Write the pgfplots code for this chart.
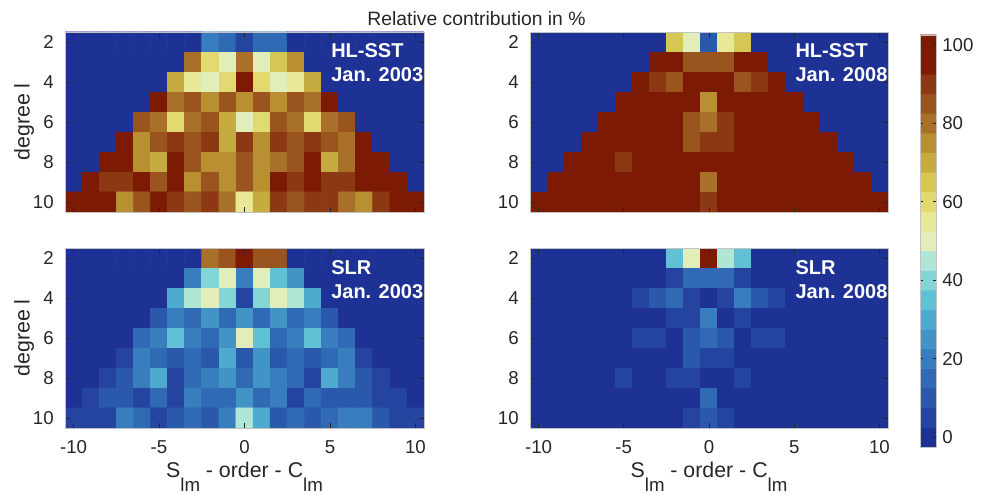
\documentclass[border=0pt]{standalone}
\usepackage{fontspec}
\setmainfont{Liberation Sans}
\usepackage{pgfplots}
\pgfplotsset{compat=1.18}

\definecolor{txt}{RGB}{38,38,38}
\definecolor{frame}{RGB}{195,195,195}

% 21 bands centred on 0,5,...,100 (last colour repeated for piecewise constant access)
\pgfplotsset{
  colormap={roma}{
    rgb255=(30,49,148) rgb255=(36,68,160) rgb255=(42,88,170) rgb255=(48,106,180)
    rgb255=(56,126,190) rgb255=(66,148,198) rgb255=(78,170,206) rgb255=(96,192,212)
    rgb255=(132,214,214) rgb255=(176,230,214) rgb255=(208,236,206) rgb255=(226,238,186)
    rgb255=(232,232,150) rgb255=(226,218,112) rgb255=(214,198,84) rgb255=(198,172,64)
    rgb255=(184,144,50) rgb255=(168,112,40) rgb255=(154,84,30) rgb255=(140,56,18)
    rgb255=(125,26,4) rgb255=(125,26,4)
  },
  shared/.style={
    scale only axis, anchor=south west, enlargelimits=false, axis on top,
    colormap name=roma, colormap access=piecewise constant,
    point meta min=-2.5, point meta max=102.5,
    tick align=inside,
    tick style={txt, line width=0.5pt},
    axis line style={frame},
    ticklabel style={font=\fontsize{14}{16}\selectfont, text=txt},
    /pgf/number format/assume math mode=true,
  },
  panel/.style={
    shared, width=269.25pt, height=135pt,
    xmin=-10.5, xmax=10.5, ymin=1.5, ymax=10.5, y dir=reverse,
    xtick={-10,-5,0,5,10}, ytick={2,4,6,8,10}, major tick length=4pt,
    xticklabel style={inner sep=0pt, yshift=-9.5pt},
    yticklabel style={inner sep=0pt, xshift=-8.25pt},
    label style={font=\fontsize{16}{19}\selectfont, text=txt},
    ylabel style={at={(axis description cs:-0.114,0.5)}, anchor=center},
    xlabel style={at={(axis description cs:0.5,-0.276)}, anchor=base},
  },
  cells/.style={matrix plot*, mesh/cols=21, point meta=explicit},
}
\tikzset{tag/.style={font=\bfseries\fontsize{15}{18}\selectfont, text=white,
    align=left, inner sep=0pt, anchor=north west}}
\newcommand{\sub}[1]{\raisebox{-10pt}{\fontsize{14}{14}\selectfont #1}}

\begin{document}
\begin{tikzpicture}
\useasboundingbox (0,0) rectangle (741.75pt,371.25pt);

\node[font=\fontsize{14.5}{17}\selectfont, text=txt, anchor=base]
  at (357.4pt,351.75pt) {Relative contribution in \%};

% HL-SST, Jan. 2003
\begin{axis}[panel, at={(48.75pt,212.25pt)}, xticklabels={}, ylabel={degree l}]
\addplot[cells] coordinates {
(-10,2)[0] (-9,2)[0] (-8,2)[0] (-7,2)[0] (-6,2)[0] (-5,2)[0] (-4,2)[0] (-3,2)[0] (-2,2)[20] (-1,2)[15] (0,2)[5] (1,2)[15] (2,2)[15] (3,2)[0] (4,2)[0] (5,2)[0] (6,2)[0] (7,2)[0] (8,2)[0] (9,2)[0] (10,2)[0]
(-10,3)[0] (-9,3)[0] (-8,3)[0] (-7,3)[0] (-6,3)[0] (-5,3)[0] (-4,3)[0] (-3,3)[80] (-2,3)[60] (-1,3)[50] (0,3)[80] (1,3)[50] (2,3)[65] (3,3)[75] (4,3)[0] (5,3)[0] (6,3)[0] (7,3)[0] (8,3)[0] (9,3)[0] (10,3)[0]
(-10,4)[0] (-9,4)[0] (-8,4)[0] (-7,4)[0] (-6,4)[0] (-5,4)[0] (-4,4)[70] (-3,4)[55] (-2,4)[50] (-1,4)[60] (0,4)[95] (1,4)[60] (2,4)[50] (3,4)[55] (4,4)[70] (5,4)[0] (6,4)[0] (7,4)[0] (8,4)[0] (9,4)[0] (10,4)[0]
(-10,5)[0] (-9,5)[0] (-8,5)[0] (-7,5)[0] (-6,5)[0] (-5,5)[95] (-4,5)[80] (-3,5)[85] (-2,5)[75] (-1,5)[85] (0,5)[75] (1,5)[85] (2,5)[75] (3,5)[85] (4,5)[80] (5,5)[95] (6,5)[0] (7,5)[0] (8,5)[0] (9,5)[0] (10,5)[0]
(-10,6)[0] (-9,6)[0] (-8,6)[0] (-7,6)[0] (-6,6)[85] (-5,6)[80] (-4,6)[60] (-3,6)[80] (-2,6)[85] (-1,6)[70] (0,6)[50] (1,6)[60] (2,6)[85] (3,6)[80] (4,6)[60] (5,6)[80] (6,6)[85] (7,6)[0] (8,6)[0] (9,6)[0] (10,6)[0]
(-10,7)[0] (-9,7)[0] (-8,7)[0] (-7,7)[95] (-6,7)[75] (-5,7)[85] (-4,7)[90] (-3,7)[85] (-2,7)[90] (-1,7)[70] (0,7)[90] (1,7)[75] (2,7)[90] (3,7)[85] (4,7)[90] (5,7)[85] (6,7)[80] (7,7)[95] (8,7)[0] (9,7)[0] (10,7)[0]
(-10,8)[0] (-9,8)[0] (-8,8)[95] (-7,8)[95] (-6,8)[75] (-5,8)[70] (-4,8)[95] (-3,8)[85] (-2,8)[75] (-1,8)[75] (0,8)[85] (1,8)[75] (2,8)[80] (3,8)[85] (4,8)[95] (5,8)[70] (6,8)[80] (7,8)[95] (8,8)[95] (9,8)[0] (10,8)[0]
(-10,9)[0] (-9,9)[100] (-8,9)[90] (-7,9)[90] (-6,9)[95] (-5,9)[85] (-4,9)[95] (-3,9)[75] (-2,9)[85] (-1,9)[75] (0,9)[85] (1,9)[75] (2,9)[95] (3,9)[90] (4,9)[95] (5,9)[90] (6,9)[90] (7,9)[95] (8,9)[95] (9,9)[100] (10,9)[0]
(-10,10)[95] (-9,10)[95] (-8,10)[95] (-7,10)[75] (-6,10)[85] (-5,10)[95] (-4,10)[90] (-3,10)[85] (-2,10)[90] (-1,10)[80] (0,10)[55] (1,10)[70] (2,10)[90] (3,10)[85] (4,10)[90] (5,10)[90] (6,10)[80] (7,10)[75] (8,10)[90] (9,10)[95] (10,10)[95]
};
\node[tag] at (axis description cs:0.741,0.939) {HL-SST\\Jan. 2003};
\end{axis}

% HL-SST, Jan. 2008
\begin{axis}[panel, at={(397.5pt,212.25pt)}, width=268.5pt, xticklabels={}]
\addplot[cells] coordinates {
(-10,2)[0] (-9,2)[0] (-8,2)[0] (-7,2)[0] (-6,2)[0] (-5,2)[0] (-4,2)[0] (-3,2)[0] (-2,2)[65] (-1,2)[50] (0,2)[10] (1,2)[55] (2,2)[65] (3,2)[0] (4,2)[0] (5,2)[0] (6,2)[0] (7,2)[0] (8,2)[0] (9,2)[0] (10,2)[0]
(-10,3)[0] (-9,3)[0] (-8,3)[0] (-7,3)[0] (-6,3)[0] (-5,3)[0] (-4,3)[0] (-3,3)[100] (-2,3)[95] (-1,3)[85] (0,3)[85] (1,3)[85] (2,3)[95] (3,3)[100] (4,3)[0] (5,3)[0] (6,3)[0] (7,3)[0] (8,3)[0] (9,3)[0] (10,3)[0]
(-10,4)[0] (-9,4)[0] (-8,4)[0] (-7,4)[0] (-6,4)[0] (-5,4)[0] (-4,4)[95] (-3,4)[90] (-2,4)[85] (-1,4)[95] (0,4)[100] (1,4)[95] (2,4)[85] (3,4)[90] (4,4)[95] (5,4)[0] (6,4)[0] (7,4)[0] (8,4)[0] (9,4)[0] (10,4)[0]
(-10,5)[0] (-9,5)[0] (-8,5)[0] (-7,5)[0] (-6,5)[0] (-5,5)[100] (-4,5)[100] (-3,5)[100] (-2,5)[95] (-1,5)[95] (0,5)[75] (1,5)[100] (2,5)[95] (3,5)[100] (4,5)[100] (5,5)[100] (6,5)[0] (7,5)[0] (8,5)[0] (9,5)[0] (10,5)[0]
(-10,6)[0] (-9,6)[0] (-8,6)[0] (-7,6)[0] (-6,6)[100] (-5,6)[100] (-4,6)[95] (-3,6)[95] (-2,6)[100] (-1,6)[85] (0,6)[80] (1,6)[90] (2,6)[100] (3,6)[95] (4,6)[95] (5,6)[100] (6,6)[100] (7,6)[0] (8,6)[0] (9,6)[0] (10,6)[0]
(-10,7)[0] (-9,7)[0] (-8,7)[0] (-7,7)[100] (-6,7)[100] (-5,7)[100] (-4,7)[100] (-3,7)[100] (-2,7)[100] (-1,7)[85] (0,7)[90] (1,7)[90] (2,7)[100] (3,7)[100] (4,7)[100] (5,7)[100] (6,7)[100] (7,7)[100] (8,7)[0] (9,7)[0] (10,7)[0]
(-10,8)[0] (-9,8)[0] (-8,8)[100] (-7,8)[100] (-6,8)[100] (-5,8)[90] (-4,8)[100] (-3,8)[100] (-2,8)[95] (-1,8)[95] (0,8)[100] (1,8)[100] (2,8)[95] (3,8)[100] (4,8)[100] (5,8)[100] (6,8)[100] (7,8)[100] (8,8)[100] (9,8)[0] (10,8)[0]
(-10,9)[0] (-9,9)[100] (-8,9)[100] (-7,9)[100] (-6,9)[100] (-5,9)[100] (-4,9)[100] (-3,9)[100] (-2,9)[100] (-1,9)[100] (0,9)[80] (1,9)[100] (2,9)[100] (3,9)[100] (4,9)[100] (5,9)[100] (6,9)[100] (7,9)[100] (8,9)[100] (9,9)[100] (10,9)[0]
(-10,10)[100] (-9,10)[100] (-8,10)[100] (-7,10)[100] (-6,10)[100] (-5,10)[100] (-4,10)[100] (-3,10)[100] (-2,10)[100] (-1,10)[95] (0,10)[90] (1,10)[95] (2,10)[100] (3,10)[100] (4,10)[100] (5,10)[100] (6,10)[100] (7,10)[100] (8,10)[100] (9,10)[100] (10,10)[100]
};
\node[tag] at (axis description cs:0.741,0.939) {HL-SST\\Jan. 2008};
\end{axis}

% SLR, Jan. 2003
\begin{axis}[panel, at={(48.75pt,50.25pt)}, ylabel={degree l},
  xlabel={S\sub{lm} - order - C\sub{lm}}]
\addplot[cells] coordinates {
(-10,2)[0] (-9,2)[0] (-8,2)[0] (-7,2)[0] (-6,2)[0] (-5,2)[0] (-4,2)[0] (-3,2)[0] (-2,2)[80] (-1,2)[85] (0,2)[100] (1,2)[85] (2,2)[85] (3,2)[0] (4,2)[0] (5,2)[0] (6,2)[0] (7,2)[0] (8,2)[0] (9,2)[0] (10,2)[0]
(-10,3)[0] (-9,3)[0] (-8,3)[0] (-7,3)[0] (-6,3)[0] (-5,3)[0] (-4,3)[0] (-3,3)[20] (-2,3)[40] (-1,3)[50] (0,3)[20] (1,3)[50] (2,3)[35] (3,3)[25] (4,3)[0] (5,3)[0] (6,3)[0] (7,3)[0] (8,3)[0] (9,3)[0] (10,3)[0]
(-10,4)[0] (-9,4)[0] (-8,4)[0] (-7,4)[0] (-6,4)[0] (-5,4)[0] (-4,4)[30] (-3,4)[45] (-2,4)[50] (-1,4)[40] (0,4)[5] (1,4)[40] (2,4)[50] (3,4)[45] (4,4)[30] (5,4)[0] (6,4)[0] (7,4)[0] (8,4)[0] (9,4)[0] (10,4)[0]
(-10,5)[0] (-9,5)[0] (-8,5)[0] (-7,5)[0] (-6,5)[0] (-5,5)[10] (-4,5)[20] (-3,5)[15] (-2,5)[25] (-1,5)[15] (0,5)[25] (1,5)[15] (2,5)[25] (3,5)[15] (4,5)[20] (5,5)[10] (6,5)[0] (7,5)[0] (8,5)[0] (9,5)[0] (10,5)[0]
(-10,6)[0] (-9,6)[0] (-8,6)[0] (-7,6)[0] (-6,6)[15] (-5,6)[20] (-4,6)[35] (-3,6)[20] (-2,6)[15] (-1,6)[25] (0,6)[50] (1,6)[35] (2,6)[15] (3,6)[20] (4,6)[35] (5,6)[20] (6,6)[15] (7,6)[0] (8,6)[0] (9,6)[0] (10,6)[0]
(-10,7)[0] (-9,7)[0] (-8,7)[0] (-7,7)[5] (-6,7)[20] (-5,7)[15] (-4,7)[10] (-3,7)[15] (-2,7)[10] (-1,7)[30] (0,7)[10] (1,7)[25] (2,7)[10] (3,7)[15] (4,7)[10] (5,7)[15] (6,7)[20] (7,7)[5] (8,7)[0] (9,7)[0] (10,7)[0]
(-10,8)[0] (-9,8)[0] (-8,8)[5] (-7,8)[10] (-6,8)[20] (-5,8)[30] (-4,8)[5] (-3,8)[15] (-2,8)[20] (-1,8)[25] (0,8)[15] (1,8)[25] (2,8)[20] (3,8)[15] (4,8)[5] (5,8)[30] (6,8)[20] (7,8)[10] (8,8)[5] (9,8)[0] (10,8)[0]
(-10,9)[0] (-9,9)[5] (-8,9)[10] (-7,9)[10] (-6,9)[5] (-5,9)[15] (-4,9)[5] (-3,9)[20] (-2,9)[15] (-1,9)[15] (0,9)[25] (1,9)[15] (2,9)[20] (3,9)[5] (4,9)[15] (5,9)[10] (6,9)[10] (7,9)[10] (8,9)[5] (9,9)[5] (10,9)[0]
(-10,10)[5] (-9,10)[5] (-8,10)[5] (-7,10)[20] (-6,10)[15] (-5,10)[5] (-4,10)[10] (-3,10)[15] (-2,10)[10] (-1,10)[20] (0,10)[45] (1,10)[30] (2,10)[10] (3,10)[15] (4,10)[10] (5,10)[15] (6,10)[20] (7,10)[20] (8,10)[10] (9,10)[5] (10,10)[5]
};
\node[tag] at (axis description cs:0.741,0.932) {SLR\\Jan. 2003};
\end{axis}

% SLR, Jan. 2008
\begin{axis}[panel, at={(397.5pt,50.25pt)}, width=268.5pt,
  xlabel={S\sub{lm} - order - C\sub{lm}}]
\addplot[cells] coordinates {
(-10,2)[0] (-9,2)[0] (-8,2)[0] (-7,2)[0] (-6,2)[0] (-5,2)[0] (-4,2)[0] (-3,2)[0] (-2,2)[35] (-1,2)[50] (0,2)[95] (1,2)[45] (2,2)[35] (3,2)[0] (4,2)[0] (5,2)[0] (6,2)[0] (7,2)[0] (8,2)[0] (9,2)[0] (10,2)[0]
(-10,3)[0] (-9,3)[0] (-8,3)[0] (-7,3)[0] (-6,3)[0] (-5,3)[0] (-4,3)[0] (-3,3)[0] (-2,3)[5] (-1,3)[15] (0,3)[15] (1,3)[15] (2,3)[5] (3,3)[0] (4,3)[0] (5,3)[0] (6,3)[0] (7,3)[0] (8,3)[0] (9,3)[0] (10,3)[0]
(-10,4)[0] (-9,4)[0] (-8,4)[0] (-7,4)[0] (-6,4)[0] (-5,4)[0] (-4,4)[5] (-3,4)[10] (-2,4)[15] (-1,4)[5] (0,4)[0] (1,4)[5] (2,4)[20] (3,4)[10] (4,4)[5] (5,4)[0] (6,4)[0] (7,4)[0] (8,4)[0] (9,4)[0] (10,4)[0]
(-10,5)[0] (-9,5)[0] (-8,5)[0] (-7,5)[0] (-6,5)[0] (-5,5)[0] (-4,5)[0] (-3,5)[0] (-2,5)[5] (-1,5)[5] (0,5)[20] (1,5)[0] (2,5)[5] (3,5)[0] (4,5)[0] (5,5)[0] (6,5)[0] (7,5)[0] (8,5)[0] (9,5)[0] (10,5)[0]
(-10,6)[0] (-9,6)[0] (-8,6)[0] (-7,6)[0] (-6,6)[0] (-5,6)[0] (-4,6)[5] (-3,6)[5] (-2,6)[0] (-1,6)[10] (0,6)[15] (1,6)[10] (2,6)[0] (3,6)[5] (4,6)[5] (5,6)[0] (6,6)[0] (7,6)[0] (8,6)[0] (9,6)[0] (10,6)[0]
(-10,7)[0] (-9,7)[0] (-8,7)[0] (-7,7)[0] (-6,7)[0] (-5,7)[0] (-4,7)[0] (-3,7)[0] (-2,7)[0] (-1,7)[10] (0,7)[5] (1,7)[5] (2,7)[0] (3,7)[0] (4,7)[0] (5,7)[0] (6,7)[0] (7,7)[0] (8,7)[0] (9,7)[0] (10,7)[0]
(-10,8)[0] (-9,8)[0] (-8,8)[0] (-7,8)[0] (-6,8)[0] (-5,8)[5] (-4,8)[0] (-3,8)[0] (-2,8)[5] (-1,8)[5] (0,8)[0] (1,8)[0] (2,8)[5] (3,8)[0] (4,8)[0] (5,8)[0] (6,8)[0] (7,8)[0] (8,8)[0] (9,8)[0] (10,8)[0]
(-10,9)[0] (-9,9)[0] (-8,9)[0] (-7,9)[0] (-6,9)[0] (-5,9)[0] (-4,9)[0] (-3,9)[0] (-2,9)[0] (-1,9)[0] (0,9)[15] (1,9)[0] (2,9)[0] (3,9)[0] (4,9)[0] (5,9)[0] (6,9)[0] (7,9)[0] (8,9)[0] (9,9)[0] (10,9)[0]
(-10,10)[0] (-9,10)[0] (-8,10)[0] (-7,10)[0] (-6,10)[0] (-5,10)[0] (-4,10)[0] (-3,10)[0] (-2,10)[0] (-1,10)[5] (0,10)[10] (1,10)[5] (2,10)[0] (3,10)[0] (4,10)[0] (5,10)[0] (6,10)[0] (7,10)[0] (8,10)[0] (9,10)[0] (10,10)[0]
};
\node[tag] at (axis description cs:0.741,0.932) {SLR\\Jan. 2008};
\end{axis}

% colour bar: one band per level 0,5,...,100
\begin{axis}[shared, at={(690pt,36pt)}, width=12pt, height=309pt,
  xmin=-0.5, xmax=1.5, ymin=-2.5, ymax=102.5,
  xtick=\empty, ytick={0,20,40,60,80,100}, yticklabel pos=right,
  major tick length=2.5pt,
  yticklabel style={inner sep=0pt, xshift=4.5pt}]
\addplot[matrix plot*, mesh/cols=2, point meta=explicit] coordinates {
(0,0)[0] (1,0)[0] (0,5)[5] (1,5)[5] (0,10)[10] (1,10)[10] (0,15)[15] (1,15)[15]
(0,20)[20] (1,20)[20] (0,25)[25] (1,25)[25] (0,30)[30] (1,30)[30] (0,35)[35] (1,35)[35]
(0,40)[40] (1,40)[40] (0,45)[45] (1,45)[45] (0,50)[50] (1,50)[50] (0,55)[55] (1,55)[55]
(0,60)[60] (1,60)[60] (0,65)[65] (1,65)[65] (0,70)[70] (1,70)[70] (0,75)[75] (1,75)[75]
(0,80)[80] (1,80)[80] (0,85)[85] (1,85)[85] (0,90)[90] (1,90)[90] (0,95)[95] (1,95)[95]
(0,100)[100] (1,100)[100]
};
\end{axis}
\end{tikzpicture}
\end{document}
